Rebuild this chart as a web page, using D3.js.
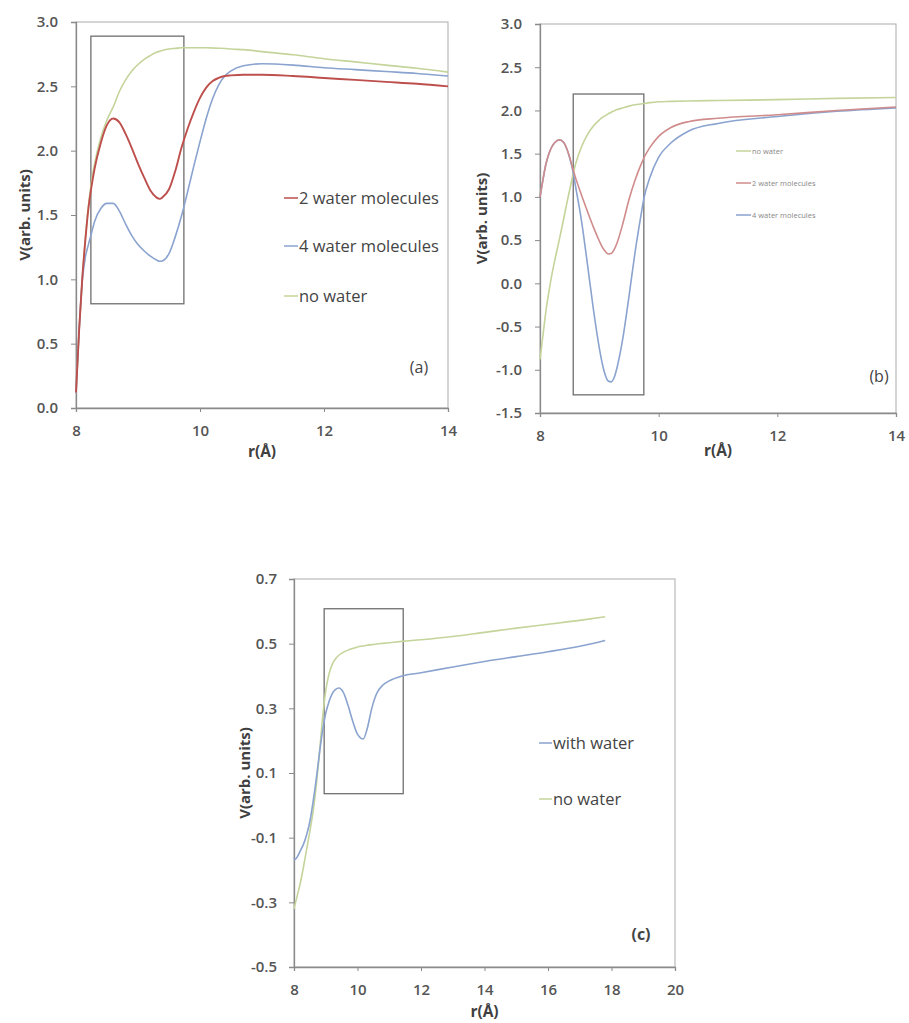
<!DOCTYPE html>
<html>
<head>
<meta charset="utf-8">
<script src="https://cdn.jsdelivr.net/npm/d3@7"></script>
<style>
  html, body { margin: 0; padding: 0; background: #fff; }
  svg { display: block; }
  text { font-family: "Open Sans", "Liberation Sans", sans-serif; }
</style>
</head>
<body>
<svg id="chart" width="909" height="1023"></svg>
<script>
// ---------------- DATA ----------------
// Panel (a)
const xA = [8.0, 8.05, 8.1, 8.15, 8.2, 8.25, 8.3, 8.4, 8.5, 8.6, 8.7, 8.8, 8.9, 9.0, 9.1, 9.2, 9.3, 9.35, 9.4, 9.5, 9.6, 9.7, 9.8, 9.9, 10.0, 10.1, 10.2, 10.3, 10.4, 10.5, 10.7, 11.0, 11.5, 12.0, 12.5, 13.0, 13.5, 14.0];
const a2Water = [0.12, 0.6, 1.0, 1.3, 1.55, 1.72, 1.86, 2.06, 2.2, 2.25, 2.22, 2.13, 2.02, 1.9, 1.79, 1.69, 1.635, 1.625, 1.64, 1.7, 1.84, 2.02, 2.17, 2.3, 2.41, 2.49, 2.54, 2.565, 2.58, 2.585, 2.59, 2.59, 2.58, 2.565, 2.55, 2.535, 2.52, 2.5];
const a4Water = [0.12, 0.6, 0.98, 1.17, 1.27, 1.36, 1.45, 1.55, 1.59, 1.59, 1.53, 1.43, 1.34, 1.27, 1.22, 1.18, 1.15, 1.14, 1.145, 1.2, 1.33, 1.49, 1.68, 1.88, 2.07, 2.25, 2.4, 2.51, 2.58, 2.62, 2.66, 2.675, 2.665, 2.645, 2.63, 2.615, 2.6, 2.58];
const aNoWater = [0.12, 0.6, 1.0, 1.32, 1.57, 1.76, 1.9, 2.1, 2.24, 2.34, 2.46, 2.55, 2.62, 2.67, 2.71, 2.74, 2.765, 2.773, 2.78, 2.79, 2.795, 2.8, 2.8, 2.8, 2.8, 2.8, 2.798, 2.796, 2.794, 2.79, 2.785, 2.77, 2.745, 2.715, 2.69, 2.665, 2.64, 2.61];
const aXTicks = [8, 10, 12, 14];
const aYTicks = [0.0, 0.5, 1.0, 1.5, 2.0, 2.5, 3.0];
const aBoxX = [8.24, 9.74];
const aBoxY = [0.81, 2.89];

// Panel (b)
const xB = [8.0, 8.05, 8.1, 8.15, 8.2, 8.25, 8.33, 8.4, 8.45, 8.5, 8.56, 8.6, 8.7, 8.8, 8.9, 9.0, 9.05, 9.1, 9.15, 9.2, 9.25, 9.3, 9.4, 9.5, 9.6, 9.7, 9.75, 9.85, 10.0, 10.2, 10.5, 11.0, 12.0, 13.0, 14.0];
const bNoWater = [-0.88, -0.6, -0.32, -0.1, 0.1, 0.27, 0.52, 0.75, 0.92, 1.08, 1.27, 1.38, 1.58, 1.72, 1.82, 1.89, 1.92, 1.94, 1.96, 1.98, 1.995, 2.01, 2.03, 2.05, 2.065, 2.075, 2.08, 2.09, 2.1, 2.105, 2.11, 2.115, 2.125, 2.14, 2.15];
const b2Water = [1.0, 1.2, 1.38, 1.5, 1.58, 1.63, 1.66, 1.63, 1.56, 1.46, 1.31, 1.22, 1.02, 0.83, 0.65, 0.49, 0.42, 0.37, 0.34, 0.345, 0.39, 0.47, 0.7, 0.97, 1.19, 1.37, 1.45, 1.57, 1.7, 1.8, 1.87, 1.91, 1.95, 2.0, 2.04];
const b4Water = [1.0, 1.2, 1.38, 1.5, 1.58, 1.63, 1.66, 1.63, 1.56, 1.45, 1.28, 1.12, 0.72, 0.22, -0.3, -0.75, -0.93, -1.06, -1.13, -1.14, -1.09, -0.97, -0.62, -0.15, 0.35, 0.78, 0.98, 1.22, 1.46, 1.62, 1.76, 1.85, 1.93, 1.99, 2.03];
const bXTicks = [8, 10, 12, 14];
const bYTicks = [-1.5, -1.0, -0.5, 0.0, 0.5, 1.0, 1.5, 2.0, 2.5, 3.0];
const bBoxX = [8.56, 9.75];
const bBoxY = [-1.29, 2.19];

// Panel (c)
const xC = [8.0, 8.1, 8.2, 8.3, 8.4, 8.5, 8.6, 8.7, 8.8, 8.9, 9.0, 9.1, 9.2, 9.3, 9.42, 9.55, 9.7, 9.85, 10.0, 10.18, 10.3, 10.45, 10.6, 10.8, 11.0, 11.4, 12, 13, 14, 15, 16, 17, 17.8];
const cWithWater = [-0.17, -0.16, -0.14, -0.12, -0.09, -0.05, 0.01, 0.08, 0.16, 0.23, 0.285, 0.32, 0.345, 0.358, 0.363, 0.35, 0.31, 0.26, 0.22, 0.205, 0.235, 0.3, 0.345, 0.372, 0.385, 0.4, 0.41, 0.428, 0.445, 0.46, 0.475, 0.492, 0.51];
const cNoWater = [-0.32, -0.28, -0.24, -0.19, -0.135, -0.08, -0.02, 0.06, 0.16, 0.27, 0.355, 0.405, 0.435, 0.452, 0.465, 0.473, 0.48, 0.485, 0.49, 0.493, 0.495, 0.497, 0.499, 0.501, 0.503, 0.507, 0.512, 0.522, 0.535, 0.548, 0.56, 0.572, 0.583];
const cXTicks = [8, 10, 12, 14, 16, 18, 20];
const cYTicks = [-0.5, -0.3, -0.1, 0.1, 0.3, 0.5, 0.7];
const cBoxX = [8.95, 11.44];
const cBoxY = [0.036, 0.608];

// ---------------- STYLE / LAYOUT ----------------
const RED = "#bd4f4d", BLUE = "#8aa3cf", GREEN = "#c4d49a";
const svg = d3.select("#chart");
svg.append("rect").attr("width", 909).attr("height", 1023).attr("fill", "#fff");

function drawPanel(cfg) {
  const g = svg.append("g");
  const x = d3.scaleLinear().domain(cfg.xDomain).range([cfg.left, cfg.right]);
  const y = d3.scaleLinear().domain(cfg.yDomain).range([cfg.bottom, cfg.top]);

  // plot frame
  g.append("rect")
    .attr("x", cfg.left).attr("y", cfg.top)
    .attr("width", cfg.right - cfg.left).attr("height", cfg.bottom - cfg.top)
    .attr("fill", "none").attr("stroke", "#ababab").attr("stroke-width", 1);

  const yAxis = g.append("g").attr("transform", `translate(${cfg.left},0)`)
    .call(d3.axisLeft(y).tickValues(cfg.yTicks).tickSize(5).tickPadding(cfg.yPad)
      .tickFormat(d3.format(".1f")));
  const xAxis = g.append("g").attr("transform", `translate(0,${cfg.bottom})`)
    .call(d3.axisBottom(x).tickValues(cfg.xTicks).tickSize(4).tickPadding(cfg.xPad)
      .tickFormat(d3.format("d")));
  [yAxis, xAxis].forEach(ax => {
    ax.select(".domain").attr("stroke", "#8a8a8a").attr("stroke-width", 1.3);
    ax.selectAll(".tick line").attr("stroke", "#8a8a8a");
    ax.selectAll(".tick text").attr("fill", "#555").attr("font-size", cfg.tickFont)
      .attr("font-family", "'Open Sans', sans-serif").attr("font-weight", 600);
  });
  yAxis.selectAll(".tick text").text(d => d3.format(".1f")(d).replace("−", "-"));

  // zoom box
  g.append("rect")
    .attr("x", x(cfg.boxX[0])).attr("y", y(cfg.boxY[1]))
    .attr("width", x(cfg.boxX[1]) - x(cfg.boxX[0]))
    .attr("height", y(cfg.boxY[0]) - y(cfg.boxY[1]))
    .attr("fill", "none").attr("stroke", "#6f6f6f").attr("stroke-width", 1.3);

  // series
  const line = d3.line().curve(d3.curveMonotoneX)
    .x(d => x(d[0])).y(d => y(d[1]));
  cfg.series.forEach(s => {
    g.append("path")
      .datum(cfg.xs.map((xv, i) => [xv, s.values[i]]))
      .attr("d", line)
      .attr("fill", "none").attr("stroke", s.color).attr("stroke-width", s.width || 1.6);
  });

  // legend
  cfg.legend.forEach((s, i) => {
    const ly = cfg.legendY[i];
    g.append("line").attr("x1", cfg.legendX).attr("x2", cfg.legendX + cfg.legendLine)
      .attr("y1", ly).attr("y2", ly).attr("stroke", s.color).attr("stroke-width", 1.5);
    g.append("text").attr("x", cfg.legendX + cfg.legendLine + 1).attr("y", ly)
      .attr("dy", "0.35em").attr("font-size", cfg.legendFont).attr("fill", cfg.legendColor)
      .attr("font-weight", cfg.legendWeight)
      .text(s.name);
  });

  // panel label
  g.append("text").attr("x", cfg.labelX).attr("y", cfg.labelY).attr("dy", "0.35em")
    .attr("text-anchor", "middle").attr("font-size", 16).attr("fill", "#444")
    .attr("font-weight", cfg.labelWeight).text(cfg.label);

  // axis titles
  g.append("text")
    .attr("transform", `translate(${cfg.yTitleX},${(cfg.top + cfg.bottom) / 2}) rotate(-90)`)
    .attr("text-anchor", "middle").attr("dy", "0.35em")
    .attr("font-size", 15).attr("font-weight", 700).attr("fill", "#404040")
    .text("V(arb. units)");
  g.append("text")
    .attr("x", (cfg.left + cfg.right) / 2).attr("y", cfg.xTitleY).attr("dy", "0.35em")
    .attr("text-anchor", "middle").attr("font-size", 15.5).attr("font-weight", 700)
    .attr("fill", "#404040").text("r(Å)");
}

drawPanel({
  left: 76, right: 448, top: 22, bottom: 408,
  xDomain: [8, 14], yDomain: [0, 3],
  xTicks: aXTicks, yTicks: aYTicks, yPad: 13, xPad: 13, tickFont: 15,
  boxX: aBoxX, boxY: aBoxY, xs: xA,
  series: [
    { name: "no water", color: GREEN, values: aNoWater },
    { name: "4 water molecules", color: BLUE, values: a4Water },
    { name: "2 water molecules", color: RED, values: a2Water, width: 1.9 }
  ],
  legend: [
    { name: "2 water molecules", color: RED },
    { name: "4 water molecules", color: BLUE },
    { name: "no water", color: GREEN }
  ],
  legendX: 284, legendLine: 14, legendY: [198, 246, 296], legendFont: 16.5, legendColor: "#444", legendWeight: 400,
  label: "(a)", labelX: 419, labelY: 367, labelWeight: 400,
  yTitleX: 25, xTitleY: 452
});

drawPanel({
  left: 540, right: 896, top: 24, bottom: 413,
  xDomain: [8, 14], yDomain: [-1.5, 3],
  xTicks: bXTicks, yTicks: bYTicks, yPad: 13, xPad: 13, tickFont: 15,
  boxX: bBoxX, boxY: bBoxY, xs: xB,
  series: [
    { name: "no water", color: GREEN, values: bNoWater },
    { name: "4 water molecules", color: BLUE, values: b4Water },
    { name: "2 water molecules", color: "#d08c8c", values: b2Water }
  ],
  legend: [
    { name: "no water", color: GREEN },
    { name: "2 water molecules", color: "#d08c8c" },
    { name: "4 water molecules", color: BLUE }
  ],
  legendX: 736, legendLine: 15, legendY: [151, 183, 215], legendFont: 7.5, legendColor: "#888", legendWeight: 400,
  label: "(b)", labelX: 879, labelY: 376, labelWeight: 400,
  yTitleX: 482, xTitleY: 451
});

drawPanel({
  left: 294, right: 675, top: 579, bottom: 967,
  xDomain: [8, 20], yDomain: [-0.5, 0.7],
  xTicks: cXTicks, yTicks: cYTicks, yPad: 12, xPad: 13, tickFont: 15,
  boxX: cBoxX, boxY: cBoxY, xs: xC,
  series: [
    { name: "no water", color: GREEN, values: cNoWater },
    { name: "with water", color: BLUE, values: cWithWater }
  ],
  legend: [
    { name: "with water", color: BLUE },
    { name: "no water", color: GREEN }
  ],
  legendX: 539, legendLine: 13, legendY: [743, 799], legendFont: 16.5, legendColor: "#444", legendWeight: 400,
  label: "(c)", labelX: 641, labelY: 934, labelWeight: 700,
  yTitleX: 245, xTitleY: 1012
});
</script>
</body>
</html>
